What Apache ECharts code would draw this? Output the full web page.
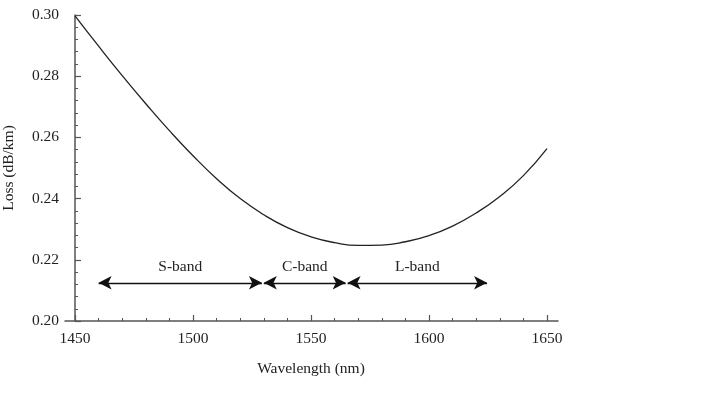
<!DOCTYPE html>
<html>
<head>
<meta charset="utf-8">
<script src="https://cdn.jsdelivr.net/npm/echarts@6/dist/echarts.min.js"></script>
<style>
  html, body { margin: 0; padding: 0; background: #fff; }
  #chart { width: 710px; height: 406px; }
</style>
</head>
<body>
<div id="chart"></div>
<script>
// fibre loss vs wavelength
const wavelength = [1450, 1460, 1470, 1480, 1490, 1500, 1510, 1520, 1530, 1540, 1550,
  1560, 1570, 1580, 1590, 1600, 1610, 1620, 1630, 1640, 1650];
const loss = [0.2997, 0.2898, 0.2802, 0.2710, 0.2622, 0.2540, 0.2465, 0.2400, 0.2347, 0.2305, 0.2275,
  0.2256, 0.2247, 0.2248, 0.2259, 0.2279, 0.2310, 0.2353, 0.2407, 0.2475, 0.2563];

// bands: name, start, end (nm), drawn at bandLevel
const bandNames = ["S-band", "C-band", "L-band"];
const bandStart = [1460, 1530, 1565.5];
const bandEnd = [1529.2, 1564.7, 1624.6];
const bandLevel = 0.2125;

const yTicks = [0.20, 0.22, 0.24, 0.26, 0.28, 0.30];

const font = "Liberation Serif";
const fontSize = 15.5;
const axisColor = "#555";

const chart = echarts.init(document.getElementById("chart"));

const bandLines = bandNames.map((name, i) => [
  { name: name, coord: [bandStart[i], bandLevel] },
  { coord: [bandEnd[i], bandLevel] },
]);

const option = {
  backgroundColor: "#fff",
  animation: false,
  grid: [
    { left: 75, right: 163, top: 15, bottom: 85, outerBoundsMode: "none", containLabel: false },
    // wider strip only for the x axis line that runs past the plot
    { left: 65, right: 152, top: 15, bottom: 85, outerBoundsMode: "none", containLabel: false },
  ],
  xAxis: [
    {
      type: "value",
      gridIndex: 0,
      min: 1450,
      max: 1650,
      interval: 50,
      name: "Wavelength (nm)",
      nameLocation: "middle",
      nameGap: 40,
      nameTextStyle: { fontFamily: font, fontSize: fontSize, color: "#222" },
      axisLine: { show: false },
      axisTick: { show: true, inside: true, length: 6, lineStyle: { color: axisColor, width: 1.2 } },
      minorTick: { show: true, splitNumber: 5, length: 3, lineStyle: { color: axisColor, width: 1 } },
      axisLabel: { fontFamily: font, fontSize: fontSize, color: "#222", margin: 10, formatter: (v) => String(v) },
      splitLine: { show: false },
    },
    {
      type: "value",
      gridIndex: 1,
      min: 0,
      max: 1,
      axisLine: { show: true, lineStyle: { color: axisColor, width: 1.5 } },
      axisTick: { show: false },
      axisLabel: { show: false },
      splitLine: { show: false },
    },
  ],
  yAxis: [
    {
      type: "value",
      gridIndex: 0,
      min: 0.2,
      max: 0.3,
      interval: 0.02,
      name: "Loss (dB/km)",
      nameLocation: "middle",
      nameGap: 58,
      nameTextStyle: { fontFamily: font, fontSize: fontSize, color: "#222" },
      axisLine: { show: true, lineStyle: { color: axisColor, width: 1.5 } },
      axisTick: { show: true, inside: true, length: 6, lineStyle: { color: axisColor, width: 1.2 } },
      minorTick: { show: true, splitNumber: 5, length: 3, lineStyle: { color: axisColor, width: 1 } },
      axisLabel: {
        fontFamily: font,
        fontSize: fontSize,
        color: "#222",
        margin: 16,
        formatter: (v) => (yTicks.some((t) => Math.abs(t - v) < 1e-6) ? v.toFixed(2) : ""),
      },
      splitLine: { show: false },
    },
    {
      type: "value",
      gridIndex: 1,
      show: false,
    },
  ],
  series: [
    {
      type: "line",
      xAxisIndex: 0,
      yAxisIndex: 0,
      data: wavelength.map((w, i) => [w, loss[i]]),
      smooth: true,
      showSymbol: false,
      lineStyle: { color: "#222", width: 1.3 },
      markLine: {
        silent: true,
        symbol: ["arrow", "arrow"],
        symbolSize: [10, 13],
        lineStyle: { color: "#111", width: 1.3, type: "solid" },
        label: {
          show: true,
          position: "middle",
          formatter: "{b}",
          fontFamily: font,
          fontSize: fontSize,
          color: "#222",
          distance: 8,
        },
        data: bandLines,
      },
    },
  ],
};

chart.setOption(option);
</script>
</body>
</html>
